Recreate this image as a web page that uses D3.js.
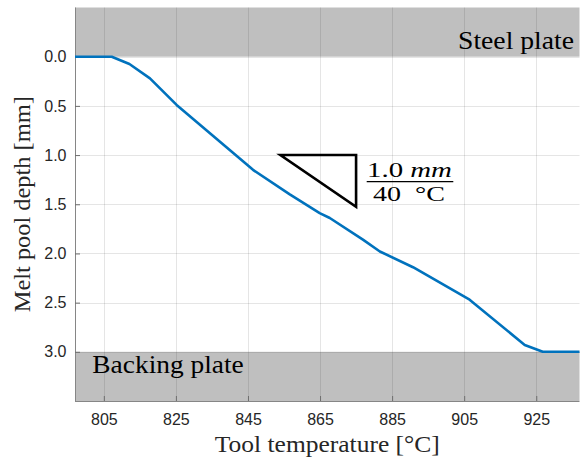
<!DOCTYPE html>
<html>
<head>
<meta charset="utf-8">
<script src="https://cdn.jsdelivr.net/npm/d3@7"></script>
<style>
  html, body { margin: 0; padding: 0; background: #fff; }
  svg { display: block; }
</style>
</head>
<body>
<svg id="chart" width="581" height="459"></svg>
<script>
// ---- data ----
const temperatures = [797, 807.2, 812.1, 817.8, 825.2, 846.4, 856.6, 864.9, 867.7, 876.9, 881.6, 890.8, 906.5, 921.8, 926.8, 937];
const depths       = [0,   0,     0.074, 0.22,  0.49,  1.15,  1.40,  1.59,  1.64,  1.86,  1.98,  2.14,  2.47,  2.93,  3.0,   3.0];
const xTicks = [805, 825, 845, 865, 885, 905, 925];
const yTicks = [0.0, 0.5, 1.0, 1.5, 2.0, 2.5, 3.0];
const bands = [
  { label: "Steel plate",   from: -0.5, to: 0.0 },
  { label: "Backing plate", from: 3.0,  to: 3.5 }
];
// slope triangle: corners (temperature, depth)
const triTemps  = [854, 875, 875];
const triDepths = [1.0, 1.0, 1.525];
const slopeNumerator = ["1.0", "mm"];
const slopeDenominator = "40  °C";
const xLabel = "Tool temperature [°C]";
const yLabel = "Melt pool depth [mm]";

// ---- layout ----
const L = 75, R = 579.5, T = 7.5, B = 401;
const svg = d3.select("#chart");
const x = d3.scaleLinear().domain([797, 937]).range([L, R]);
const y = d3.scaleLinear().domain([-0.5, 3.5]).range([T, B]);

const serif = "'Liberation Serif', 'Times New Roman', serif";
const sans = "'Liberation Sans', Arial, Helvetica, sans-serif";

// bands
svg.append("g").selectAll("rect").data(bands).join("rect")
  .attr("x", L).attr("width", R - L)
  .attr("y", d => y(d.from)).attr("height", d => y(d.to) - y(d.from))
  .attr("fill", "#bfbfbf");

// grid
const grid = svg.append("g").attr("stroke", "#262626").attr("stroke-opacity", 0.12).attr("stroke-width", 1);
grid.selectAll("line.v").data(xTicks).join("line").attr("class", "v")
  .attr("x1", d => Math.round(x(d)) + 0.5).attr("x2", d => Math.round(x(d)) + 0.5)
  .attr("y1", T).attr("y2", B);
grid.selectAll("line.h").data(yTicks).join("line").attr("class", "h")
  .attr("y1", d => Math.round(y(d)) + 0.5).attr("y2", d => Math.round(y(d)) + 0.5)
  .attr("x1", L).attr("x2", R);

// axes
const xAxis = d3.axisBottom(x).tickValues(xTicks).tickSizeInner(-5).tickSizeOuter(0).tickPadding(13).tickFormat(d3.format("d"));
const gx = svg.append("g").attr("transform", `translate(0,${B})`).call(xAxis);
const yAxis = d3.axisLeft(y).tickValues(yTicks).tickSizeInner(-5).tickSizeOuter(0).tickPadding(13).tickFormat(d3.format(".1f"));
const gy = svg.append("g").attr("transform", `translate(${L},0)`).call(yAxis);
[gx, gy].forEach(g => {
  g.select(".domain").attr("stroke", "#868686").attr("stroke-width", 1);
  g.selectAll(".tick line").attr("stroke", "#6e6e6e");
  g.selectAll(".tick text").attr("fill", "#262626").attr("font-family", sans).attr("font-size", 16);
});
gy.select(".domain").attr("d", `M0.5,${T}V${B}`);
gx.select(".domain").attr("d", `M${L},0.5H${R}`);
gy.selectAll(".tick text").attr("x", -8.5);

// data line
const line = d3.line().x((d, i) => x(temperatures[i])).y((d, i) => y(depths[i]));
svg.append("path").datum(depths)
  .attr("d", line)
  .attr("fill", "none").attr("stroke", "#0072BD").attr("stroke-width", 2.6)
  .attr("stroke-linejoin", "round");

// band labels
svg.append("text").text(bands[0].label)
  .attr("x", 574).attr("y", 49).attr("text-anchor", "end")
  .attr("font-family", serif).attr("font-size", 25)
  .attr("textLength", 116).attr("lengthAdjust", "spacingAndGlyphs").attr("fill", "#000");
svg.append("text").text(bands[1].label)
  .attr("x", 92.3).attr("y", 372.7)
  .attr("font-family", serif).attr("font-size", 25)
  .attr("textLength", 151.5).attr("lengthAdjust", "spacingAndGlyphs").attr("fill", "#000");

// slope triangle
svg.append("path")
  .attr("d", d3.line()(triTemps.map((t, i) => [x(t), y(triDepths[i])])) + "Z")
  .attr("fill", "none").attr("stroke", "#000").attr("stroke-width", 2.6)
  .attr("stroke-linejoin", "miter");

// fraction
const num = svg.append("text").attr("x", 367).attr("y", 177)
  .attr("font-family", serif).attr("font-size", 21).attr("fill", "#000")
  .attr("textLength", 85).attr("lengthAdjust", "spacingAndGlyphs");
num.append("tspan").text(slopeNumerator[0] + " ");
num.append("tspan").attr("font-style", "italic").text(slopeNumerator[1]);
svg.append("line").attr("x1", 366.7).attr("x2", 453.3).attr("y1", 181.7).attr("y2", 181.7)
  .attr("stroke", "#000").attr("stroke-width", 1.3);
svg.append("text").attr("x", 373).attr("y", 200.8)
  .attr("font-family", serif).attr("font-size", 21).attr("fill", "#000")
  .attr("textLength", 72).attr("lengthAdjust", "spacingAndGlyphs")
  .attr("xml:space", "preserve").style("white-space", "pre")
  .text(slopeDenominator);

// axis labels
svg.append("text").text(xLabel)
  .attr("x", (L + R) / 2).attr("y", 452).attr("text-anchor", "middle")
  .attr("font-family", serif).attr("font-size", 23).attr("fill", "#262626")
  .attr("textLength", 225).attr("lengthAdjust", "spacingAndGlyphs");
svg.append("text").text(yLabel)
  .attr("transform", `translate(30,${(T + B) / 2}) rotate(-90)`)
  .attr("text-anchor", "middle")
  .attr("font-family", serif).attr("font-size", 23).attr("fill", "#262626")
  .attr("textLength", 216).attr("lengthAdjust", "spacingAndGlyphs");
</script>
</body>
</html>
